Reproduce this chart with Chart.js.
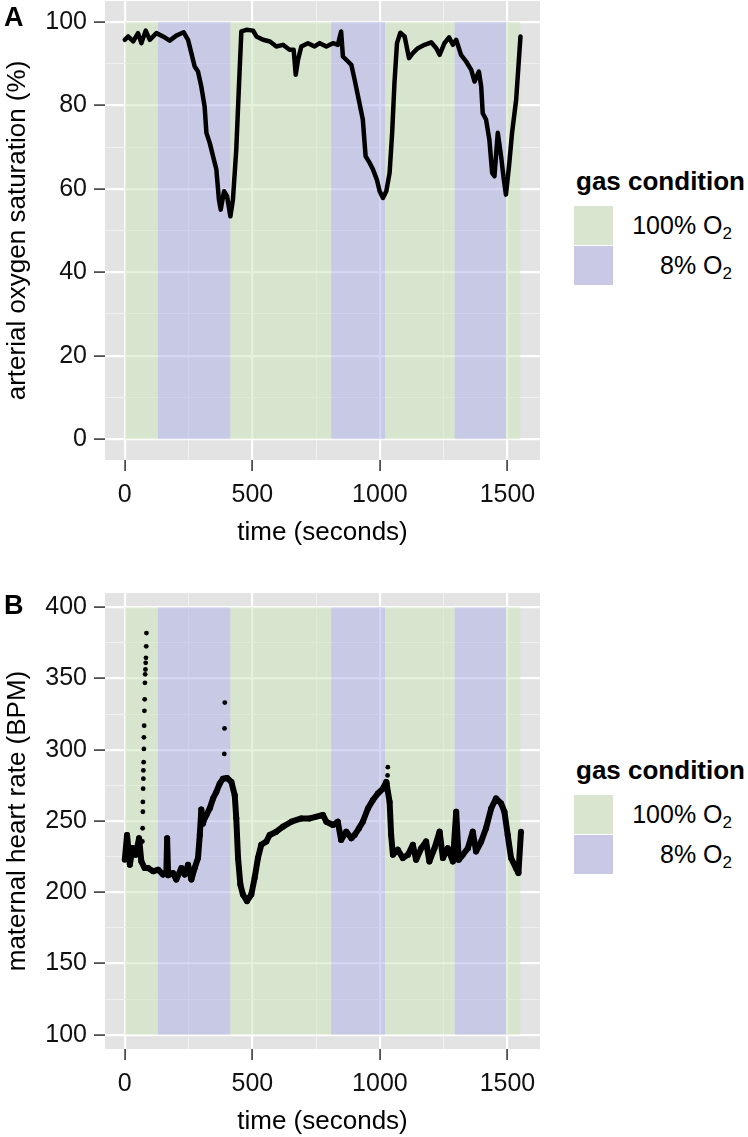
<!DOCTYPE html>
<html>
<head>
<meta charset="utf-8">
<title>gas condition</title>
<script src="https://cdn.jsdelivr.net/npm/chart.js@4.4.1/dist/chart.umd.min.js"></script>
<style>
  body { margin: 0; background: #fff; font-family: "Liberation Sans", Arial, sans-serif; color: #000; }
  #page { position: relative; width: 748px; height: 1137px; overflow: hidden; }
  canvas { position: absolute; left: 0; }
  #chartA { top: 0; }
  #chartB { top: 589px; }
  .tag { position: absolute; left: 4px; font-weight: bold; font-size: 27px; line-height: 1; }
  .legend { position: absolute; left: 574px; width: 172px; }
  .legend .title { font-weight: bold; font-size: 26px; line-height: 30px; margin-left: 2px; margin-bottom: 10px; white-space: nowrap; }
  .legend .row { display: flex; align-items: center; height: 39.5px; }
  .legend .key { width: 39px; height: 39px; }
  .legend .label { width: 119px; text-align: right; font-size: 25px; line-height: 1; }
  sub { font-size: 0.68em; vertical-align: -0.32em; line-height: 0; }
</style>
</head>
<body>
<div id="page">
  <canvas id="chartA" width="560" height="560"></canvas>
  <canvas id="chartB" width="560" height="560"></canvas>
  <div class="tag" style="top:4px">A</div>
  <div class="tag" style="top:592px">B</div>
  <div class="legend" id="legendA" style="top:166px"></div>
  <div class="legend" id="legendB" style="top:755px"></div>
</div>
<script>
// gas condition periods (seconds)
const gasStart = [0, 130, 414, 809, 1020, 1293, 1495];
const gasEnd = [130, 414, 809, 1020, 1293, 1495, 1550];
const gasCondition = ['100% O2', '8% O2', '100% O2', '8% O2', '100% O2', '8% O2', '100% O2'];
const gasLevels = ['100% O2', '8% O2'];

// A: arterial oxygen saturation (%)
const satTime = [0, 13, 33, 52, 65, 82, 98, 124, 150, 176, 202, 231, 248, 261, 274, 287, 300, 313, 320, 333,
  346, 359, 369, 376, 389, 401, 414, 424, 437, 448, 457, 477, 503, 516, 542, 569, 594, 620, 646, 662,
  670, 679, 692, 718, 744, 764, 790, 816, 835, 848, 855, 875, 888, 901, 920, 933, 944, 960, 973, 988,
  999, 1012, 1025, 1038, 1048, 1057, 1067, 1080, 1097, 1114, 1129, 1149, 1175, 1201, 1221, 1234, 1253, 1271, 1286, 1299,
  1318, 1338, 1358, 1371, 1388, 1397, 1403, 1416, 1429, 1440, 1449, 1462, 1475, 1484, 1494, 1506, 1518, 1534, 1551];
const satValue = [95.7, 96.5, 95.3, 97.3, 94.9, 97.9, 95.7, 97.3, 96.5, 95.5, 96.7, 97.5, 95.7, 92.5, 89.3, 88.1, 84.5, 79.7, 73.4, 71.0,
  67.8, 64.6, 57.4, 55.0, 59.4, 58.2, 53.4, 57.4, 69.4, 85.3, 97.7, 98.1, 97.9, 96.5, 95.7, 95.3, 94.1, 94.5, 93.3, 93.3,
  87.3, 90.9, 94.1, 94.9, 94.1, 94.9, 94.1, 94.9, 94.5, 97.7, 91.7, 90.5, 89.7, 86.1, 80.5, 76.6, 67.8, 66.2, 64.6, 62.2,
  59.4, 57.8, 59.4, 63.8, 73.4, 85.3, 94.9, 97.4, 96.5, 91.3, 92.5, 93.7, 94.5, 95.1, 93.7, 92.1, 94.9, 96.3, 94.5, 95.7,
  92.1, 90.5, 88.5, 85.7, 88.1, 84.5, 78.1, 76.6, 71.8, 63.8, 63.0, 73.4, 67.8, 63.0, 58.6, 65.4, 73.4, 81.3, 96.5];

// B: maternal heart rate (BPM)
const hrTime = [0, 9, 20, 30, 43, 56, 65, 78, 91, 111, 131, 150, 163, 166, 170, 189, 202, 222, 235, 248,
  261, 274, 287, 294, 300, 306, 313, 320, 333, 346, 359, 372, 385, 401, 418, 431, 437, 444, 453, 463,
  479, 496, 509, 522, 535, 555, 568, 594, 620, 653, 692, 725, 777, 790, 816, 835, 848, 868, 888, 901,
  918, 933, 953, 972, 992, 1012, 1025, 1038, 1044, 1051, 1070, 1090, 1110, 1129, 1142, 1162, 1181, 1194, 1214, 1234,
  1247, 1266, 1286, 1299, 1309, 1325, 1345, 1364, 1377, 1397, 1416, 1436, 1455, 1475, 1488, 1501, 1514, 1533, 1543, 1553];
const hrValue = [222.8, 240.2, 219.3, 231, 226.3, 237.9, 221.6, 217, 217, 214.7, 215.8, 212.4, 214, 237.9, 212, 213.5, 208.9, 217, 212.4, 219.3,
  208.9, 217, 224, 240, 258, 248, 252, 254.2, 258.8, 265.8, 270.4, 276.2, 279.7, 280.2, 277.4, 268.1, 251.9, 224, 205.4, 198.4,
  193.8, 198.4, 210, 224, 233.3, 235.6, 240.2, 242.5, 246, 249.5, 251.8, 251.8, 254.2, 249.5, 247.2, 249.5, 236.7, 242.5, 237.9, 240.2,
  244.9, 249.5, 258.8, 264.6, 269.3, 272.7, 277.4, 263.4, 240.2, 226.3, 229.8, 224, 226.3, 233.3, 222.8, 230.9, 235.6, 221.6, 230.9, 242.5,
  224, 230.9, 221.6, 256.5, 222.8, 226.3, 230.9, 242.5, 228.6, 235.6, 244.9, 258.8, 265.8, 262.3, 256.5, 240.2, 224, 217, 213.5, 242.5];
// isolated readings that stand apart from the trace
const hrSpikeTime = [69, 70, 71, 71, 72, 73, 73, 74, 75, 75, 76, 77, 78, 79, 80, 81, 82, 83, 84, 85, 390, 391, 392, 1029, 1030, 1031];
const hrSpikeValue = [235.6, 244.9, 256.5, 263.4, 272.7, 279.7, 285.5, 291.3, 300.6, 308.7, 316.9, 327.3, 335.4, 347, 352.9, 356.3, 361, 364.5, 372.6, 381.9,
  297.1, 315, 333.1, 276.2, 282, 287.8];

// axes
const timeTicks = [0, 500, 1000, 1500];
const timeMinor = [250, 750, 1250];
const satTicks = [0, 20, 40, 60, 80, 100];
const satMinor = [10, 30, 50, 70, 90];
const hrTicks = [100, 150, 200, 250, 300, 350, 400];
const hrMinor = [125, 175, 225, 275, 325, 375];

const panelGrey = '#e3e3e3';
const bandFill = { '100% O2': 'rgba(207, 231, 189, 0.55)', '8% O2': 'rgba(178, 180, 231, 0.55)' };
const keyFill = { '100% O2': '#d9e5cf', '8% O2': '#c9c9e5' };

Chart.defaults.font.family = '"Liberation Sans", Arial, sans-serif';

const gasBands = {
  id: 'gasBands',
  beforeDraw(chart) {
    const a = chart.chartArea;
    chart.ctx.fillStyle = panelGrey;
    chart.ctx.fillRect(a.left, a.top, a.width, a.height);
  },
  beforeDatasetsDraw(chart, args, opts) {
    const { ctx, chartArea: a, scales: { x, y } } = chart;
    const yTop = y.getPixelForValue(opts.top);
    const yBot = y.getPixelForValue(opts.bottom);
    ctx.save();
    ctx.beginPath();
    ctx.rect(a.left, a.top, a.width, a.height);
    ctx.clip();
    gasStart.forEach((s, i) => {
      const x0 = x.getPixelForValue(s);
      const x1 = x.getPixelForValue(gasEnd[i]);
      ctx.fillStyle = bandFill[gasCondition[i]];
      ctx.fillRect(x0, yTop, x1 - x0, yBot - yTop);
    });
    ctx.restore();
  }
};

function gridFor(major) {
  return {
    color: c => major.includes(c.tick.value) ? '#ffffff' : '#f1f1f1',
    lineWidth: c => major.includes(c.tick.value) ? 2.2 : 1,
    tickColor: c => major.includes(c.tick.value) ? '#3a3a3a' : 'rgba(0,0,0,0)',
    tickWidth: 1.6,
    tickLength: 11
  };
}

function panelOptions(yMin, yMax, yTicks, yMinor, yTitle, bandBottom, bandTop) {
  return {
    responsive: false,
    animation: false,
    events: [],
    layout: { padding: { top: 1, right: 20, left: 0, bottom: 0 } },
    plugins: {
      legend: { display: false },
      tooltip: { enabled: false },
      gasBands: { bottom: bandBottom, top: bandTop }
    },
    scales: {
      x: {
        type: 'linear',
        min: -77.5,
        max: 1627.5,
        afterBuildTicks: s => { s.ticks = timeTicks.concat(timeMinor).sort((a, b) => a - b).map(v => ({ value: v })); },
        afterFit: s => { s.height = 100; s.paddingLeft = 0; s.paddingRight = 0; },
        ticks: { autoSkip: false, maxRotation: 0, padding: 9, color: '#111', font: { size: 25 },
          callback: v => timeTicks.includes(v) ? String(v) : '' },
        grid: gridFor(timeTicks),
        border: { display: false },
        title: { display: true, text: 'time (seconds)', color: '#000', font: { size: 26 }, padding: { top: 0, bottom: 12 } }
      },
      y: {
        type: 'linear',
        min: yMin,
        max: yMax,
        afterBuildTicks: s => { s.ticks = yTicks.concat(yMinor).sort((a, b) => a - b).map(v => ({ value: v })); },
        afterFit: s => { s.width = 105; s.paddingTop = 0; s.paddingBottom = 0; },
        ticks: { autoSkip: false, padding: 7, color: '#111', font: { size: 25 },
          callback: v => yTicks.includes(v) ? String(v) : '' },
        grid: gridFor(yTicks),
        border: { display: false },
        title: { display: true, text: yTitle, color: '#000', font: { size: 26 }, padding: { top: 2, bottom: 0 } }
      }
    }
  };
}

new Chart(document.getElementById('chartA'), {
  type: 'scatter',
  data: {
    datasets: [{
      label: 'arterial oxygen saturation',
      data: satTime.map((t, i) => ({ x: t, y: satValue[i] })),
      showLine: true,
      borderColor: '#000',
      borderWidth: 4.5,
      borderJoinStyle: 'round',
      borderCapStyle: 'round',
      pointRadius: 0
    }]
  },
  options: panelOptions(-5, 105, satTicks, satMinor, 'arterial oxygen saturation (%)', 0, 100),
  plugins: [gasBands]
});

new Chart(document.getElementById('chartB'), {
  type: 'scatter',
  data: {
    datasets: [{
      label: 'maternal heart rate',
      data: hrTime.map((t, i) => ({ x: t, y: hrValue[i] })),
      showLine: true,
      borderColor: '#000',
      borderWidth: 6,
      borderJoinStyle: 'round',
      pointRadius: 3,
      pointBackgroundColor: '#000',
      pointBorderWidth: 0
    }, {
      label: 'isolated readings',
      data: hrSpikeTime.map((t, i) => ({ x: t, y: hrSpikeValue[i] })),
      pointRadius: 2.4,
      pointBackgroundColor: '#000',
      pointBorderWidth: 0
    }]
  },
  options: panelOptions(90, 410, hrTicks, hrMinor, 'maternal heart rate (BPM)', 100, 400),
  plugins: [gasBands]
});

// legends (ggplot-style, on the right of each panel)
function buildLegend(id) {
  const box = document.getElementById(id);
  let html = '<div class="title">gas condition</div>';
  gasLevels.forEach(level => {
    html += '<div class="row"><span class="key" style="background:' + keyFill[level] + '"></span>' +
      '<span class="label">' + level.replace(/O2$/, 'O<sub>2</sub>') + '</span></div>';
  });
  box.innerHTML = html;
}
buildLegend('legendA');
buildLegend('legendB');
</script>
</body>
</html>
